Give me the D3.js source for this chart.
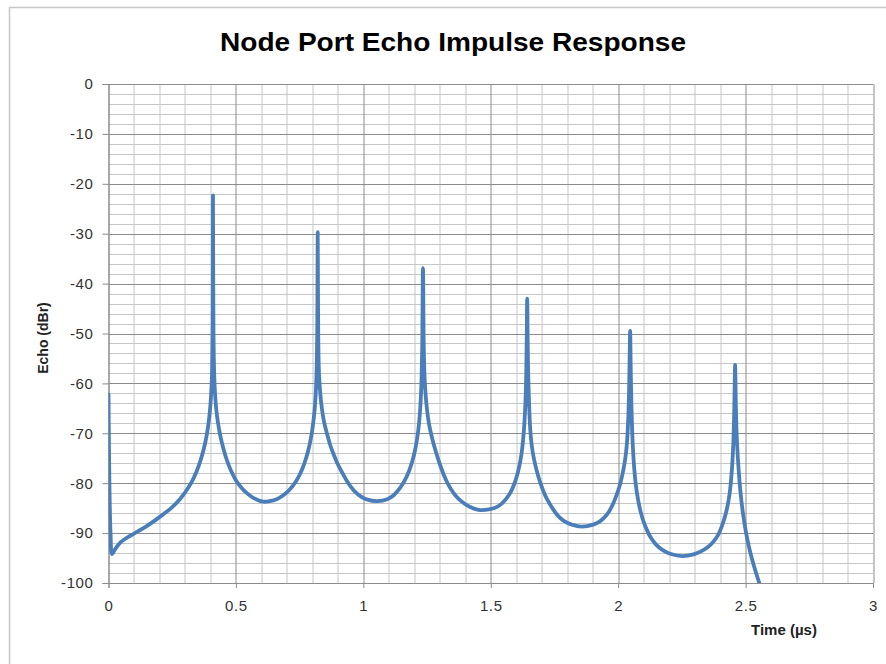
<!DOCTYPE html>
<html>
<head>
<meta charset="utf-8">
<script src="https://cdnjs.cloudflare.com/ajax/libs/d3/7.8.5/d3.min.js"></script>
<style>
  body { margin: 0; background: #fff; }
  svg { display: block; font-family: "Liberation Sans", Arial, sans-serif; }
</style>
</head>
<body>
<div id="chart"></div>
<script>
// time in microseconds, echo in dBr (one line per lobe)
const timeUs = [
  0.000, 0.003, 0.008, 0.014, 0.025, 0.046, 0.070, 0.100, 0.150, 0.200, 0.250, 0.280, 0.300, 0.325, 0.346, 0.362, 0.375, 0.386, 0.394, 0.400, 0.404, 0.407, 0.409, 0.410,
  0.412, 0.415, 0.418, 0.423, 0.430, 0.438, 0.450, 0.464, 0.480, 0.500, 0.520, 0.543, 0.570, 0.608, 0.631, 0.660, 0.686, 0.712, 0.736, 0.752, 0.763, 0.774, 0.784, 0.791, 0.798, 0.804, 0.809, 0.813, 0.816, 0.819, 0.821,
  0.823, 0.826, 0.831, 0.837, 0.845, 0.858, 0.871, 0.884, 0.897, 0.916, 0.936, 0.949, 0.971, 0.991, 1.016, 1.055, 1.094, 1.119, 1.142, 1.162, 1.179, 1.192, 1.202, 1.210, 1.216, 1.221, 1.225, 1.228, 1.231, 1.234,
  1.237, 1.240, 1.244, 1.250, 1.258, 1.270, 1.284, 1.303, 1.324, 1.344, 1.364, 1.384, 1.409, 1.434, 1.458, 1.498, 1.523, 1.543, 1.561, 1.577, 1.591, 1.603, 1.613, 1.621, 1.627, 1.632, 1.636, 1.639, 1.641, 1.643,
  1.645, 1.647, 1.650, 1.655, 1.661, 1.669, 1.681, 1.695, 1.709, 1.723, 1.743, 1.765, 1.788, 1.818, 1.857, 1.902, 1.927, 1.947, 1.965, 1.981, 1.995, 2.007, 2.017, 2.025, 2.031, 2.036, 2.040, 2.043, 2.045, 2.047,
  2.049, 2.051, 2.054, 2.058, 2.063, 2.069, 2.077, 2.087, 2.099, 2.113, 2.129, 2.147, 2.172, 2.207, 2.252, 2.299, 2.334, 2.359, 2.377, 2.393, 2.407, 2.419, 2.429, 2.437, 2.443, 2.448, 2.452, 2.455, 2.457, 2.459,
  2.461, 2.463, 2.467, 2.473, 2.481, 2.491, 2.504, 2.519, 2.537, 2.557
];
const echoDbr = [
  -62.2, -78.0, -90.0, -94.2, -93.3, -91.9, -91.0, -90.1, -88.6, -86.8, -84.8, -83.2, -81.9, -79.9, -77.6, -75.3, -72.9, -70.2, -67.4, -64.3, -61.0, -56.5, -48.0, -22.3,
  -50.0, -58.5, -62.0, -65.2, -68.0, -70.3, -72.9, -75.3, -77.4, -79.4, -80.8, -82.0, -83.0, -83.7, -83.6, -83.2, -82.4, -81.2, -79.6, -78.1, -76.8, -75.2, -73.4, -71.8, -69.9, -67.6, -65.2, -62.3, -58.7, -50.0, -29.7,
  -50.0, -58.0, -62.0, -64.9, -67.5, -70.2, -72.5, -74.3, -75.9, -77.8, -79.6, -80.6, -81.9, -82.7, -83.3, -83.6, -83.2, -82.4, -81.1, -79.5, -77.6, -75.6, -73.6, -71.4, -69.2, -66.6, -63.5, -60.0, -53.0, -36.9,
  -52.0, -58.5, -62.0, -65.3, -68.2, -71.0, -73.6, -76.6, -79.3, -81.2, -82.6, -83.6, -84.5, -85.1, -85.4, -85.2, -84.8, -84.1, -83.1, -81.9, -80.3, -78.5, -76.4, -74.0, -71.3, -68.0, -64.0, -59.0, -52.0, -43.0,
  -52.0, -58.0, -63.5, -69.2, -72.5, -75.0, -77.6, -80.0, -81.9, -83.4, -85.1, -86.6, -87.6, -88.3, -88.7, -88.3, -87.7, -86.8, -85.6, -84.0, -82.2, -80.3, -78.2, -76.0, -73.8, -70.8, -66.5, -61.0, -55.0, -49.5,
  -56.0, -62.0, -68.0, -73.0, -77.0, -80.2, -83.0, -85.5, -87.6, -89.4, -91.0, -92.2, -93.3, -94.2, -94.6, -94.2, -93.4, -92.5, -91.5, -90.3, -88.6, -86.7, -84.6, -82.2, -79.4, -76.0, -71.8, -66.5, -61.0, -56.3,
  -62.0, -67.0, -72.5, -77.5, -82.3, -86.5, -90.5, -94.0, -97.3, -100.5
];

const xTicks = [0, 0.5, 1, 1.5, 2, 2.5, 3];
const xTickLabels = ["0", "0.5", "1", "1.5", "2", "2.5", "3"];
const yTicks = [0, -10, -20, -30, -40, -50, -60, -70, -80, -90, -100];

const config = {
  width: 886,
  height: 664,
  margin: { top: 84, right: 13, bottom: 81, left: 108.5 }
};
const plotW = config.width - config.margin.left - config.margin.right;
const plotH = config.height - config.margin.top - config.margin.bottom;

const svg = d3.select("#chart").append("svg")
  .attr("width", config.width)
  .attr("height", config.height);

svg.append("rect")
  .attr("width", config.width)
  .attr("height", config.height)
  .attr("fill", "#fff");

// outer chart frame (only top and left edges are visible)
svg.append("path")
  .attr("d", `M9.5,${config.height} V7.5 H${config.width}`)
  .attr("fill", "none")
  .attr("stroke", "#c8c8c8")
  .attr("stroke-width", 1.5);

const x = d3.scaleLinear().domain([0, 3]).range([0, plotW]);
const y = d3.scaleLinear().domain([-100, 0]).range([plotH, 0]);

const chart = svg.append("g")
  .attr("transform", `translate(${config.margin.left},${config.margin.top})`);

// minor grid: every 0.1 us and every 2 dB
chart.append("g")
  .selectAll("line")
  .data(d3.range(0, 31).map(i => i / 10).filter((d, i) => i % 5 !== 0))
  .join("line")
  .attr("x1", d => Math.round(x(d)) + 0.5)
  .attr("x2", d => Math.round(x(d)) + 0.5)
  .attr("y1", 0)
  .attr("y2", plotH)
  .attr("stroke", "#c6c6c6");

chart.append("g")
  .selectAll("line")
  .data(d3.range(0, 51).map(i => -i * 2).filter((d, i) => i % 5 !== 0))
  .join("line")
  .attr("y1", d => Math.round(y(d)) + 0.5)
  .attr("y2", d => Math.round(y(d)) + 0.5)
  .attr("x1", 0)
  .attr("x2", plotW)
  .attr("stroke", "#c6c6c6");

// major grid
chart.append("g")
  .selectAll("line")
  .data(xTicks)
  .join("line")
  .attr("x1", d => Math.round(x(d)) + 0.5)
  .attr("x2", d => Math.round(x(d)) + 0.5)
  .attr("y1", 0)
  .attr("y2", plotH)
  .attr("stroke", "#8c8c8c");

chart.append("g")
  .selectAll("line")
  .data(yTicks)
  .join("line")
  .attr("y1", d => Math.round(y(d)) + 0.5)
  .attr("y2", d => Math.round(y(d)) + 0.5)
  .attr("x1", 0)
  .attr("x2", plotW)
  .attr("stroke", "#8c8c8c");

// axes
const xAxis = d3.axisBottom(x)
  .tickValues(xTicks)
  .tickFormat((d, i) => xTickLabels[i])
  .tickSize(5)
  .tickPadding(12);
const yAxis = d3.axisLeft(y)
  .tickValues(yTicks)
  .tickFormat(d => String(d))
  .tickSize(6)
  .tickPadding(9);

const gx = chart.append("g")
  .attr("transform", `translate(0,${plotH})`)
  .call(xAxis);
const gy = chart.append("g").call(yAxis);

[gx, gy].forEach(g => {
  g.select(".domain").attr("stroke", "#8c8c8c");
  g.selectAll(".tick line").attr("stroke", "#8c8c8c");
  g.selectAll(".tick text")
    .attr("fill", "#333")
    .attr("font-size", 15)
    .attr("letter-spacing", 0.6)
    .attr("font-family", "'Liberation Sans', Arial, sans-serif");
});

// clip the trace to the plot area
svg.append("defs").append("clipPath")
  .attr("id", "plot-clip")
  .append("rect")
  .attr("width", plotW)
  .attr("height", plotH);

const points = timeUs.map((t, i) => [t, echoDbr[i]]);
const line = d3.line()
  .x(d => x(d[0]))
  .y(d => y(d[1]))
  .curve(d3.curveCatmullRom.alpha(0.5));

chart.append("path")
  .datum(points)
  .attr("clip-path", "url(#plot-clip)")
  .attr("fill", "none")
  .attr("stroke", "#4a7ebb")
  .attr("stroke-width", 3.8)
  .attr("stroke-linejoin", "round")
  .attr("stroke-linecap", "round")
  .attr("d", line);

// title and axis titles
svg.append("text")
  .attr("x", 453)
  .attr("y", 51)
  .attr("text-anchor", "middle")
  .attr("font-size", 25)
  .attr("font-weight", "bold")
  .attr("fill", "#000")
  .attr("textLength", 466)
  .attr("lengthAdjust", "spacingAndGlyphs")
  .text("Node Port Echo Impulse Response");

svg.append("text")
  .attr("x", 784)
  .attr("y", 635)
  .attr("text-anchor", "middle")
  .attr("font-size", 15)
  .attr("font-weight", "bold")
  .attr("fill", "#222")
  .text("Time (µs)");

svg.append("text")
  .attr("transform", "translate(48,338) rotate(-90)")
  .attr("text-anchor", "middle")
  .attr("font-size", 14)
  .attr("font-weight", "bold")
  .attr("fill", "#222")
  .text("Echo (dBr)");
</script>
</body>
</html>
